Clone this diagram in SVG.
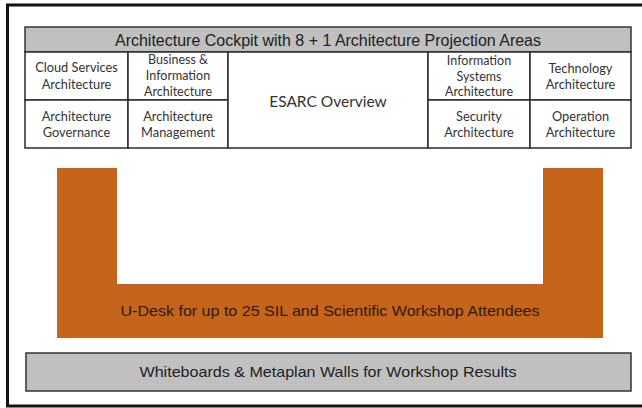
<svg xmlns="http://www.w3.org/2000/svg" width="642" height="408" viewBox="0 0 642 408">
<style>
.cell{fill:#ffffff;stroke:#2b2b2b;stroke-width:1.5}
.bar{fill:#c0c0c0;stroke:#333333;stroke-width:1.5}
.ct{font-family:Lato,"Open Sans","Liberation Sans",sans-serif;font-size:12.8px;fill:#333333;text-anchor:middle}
.cs{font-family:Lato,"Open Sans","Liberation Sans",sans-serif;font-size:12.5px;fill:#333333;text-anchor:middle}
.at{font-family:"Liberation Sans",Arial,sans-serif;fill:#222222;text-anchor:middle}
</style>
<rect x="0" y="0" width="642" height="408" fill="#ffffff"/>
<rect id="frame" x="7.5" y="5" width="640" height="401" fill="none" stroke="#111111" stroke-width="3"/>
<g id="cockpit-title">
<rect class="bar" x="25" y="27" width="606" height="25"/>
<text class="at" x="328" y="45.5" font-size="16" textLength="426" lengthAdjust="spacingAndGlyphs">Architecture Cockpit with 8 + 1 Architecture Projection Areas</text>
</g>
<g id="cloud-services">
<rect class="cell" x="25" y="52" width="103" height="48"/>
<text class="ct" x="76.5" y="72">Cloud Services</text>
<text class="ct" x="76.5" y="89">Architecture</text>
</g>
<g id="business-information">
<rect class="cell" x="128" y="52" width="100" height="48"/>
<text class="cs" x="178" y="64">Business &amp;</text>
<text class="cs" x="178" y="80">Information</text>
<text class="cs" x="178" y="96">Architecture</text>
</g>
<g id="governance">
<rect class="cell" x="25" y="100" width="103" height="48"/>
<text class="ct" x="76.5" y="121">Architecture</text>
<text class="ct" x="76.5" y="137">Governance</text>
</g>
<g id="management">
<rect class="cell" x="128" y="100" width="100" height="48"/>
<text class="ct" x="178" y="121">Architecture</text>
<text class="ct" x="178" y="137">Management</text>
</g>
<g id="esarc-overview">
<rect class="cell" x="228" y="52" width="200" height="96"/>
<text class="ct" x="328" y="107" style="font-size:15.5px">ESARC Overview</text>
</g>
<g id="information-systems">
<rect class="cell" x="428" y="52" width="102" height="48"/>
<text class="cs" x="479" y="65">Information</text>
<text class="cs" x="479" y="81">Systems</text>
<text class="cs" x="479" y="96">Architecture</text>
</g>
<g id="technology">
<rect class="cell" x="530" y="52" width="101" height="48"/>
<text class="ct" x="580.5" y="73">Technology</text>
<text class="ct" x="580.5" y="89">Architecture</text>
</g>
<g id="security">
<rect class="cell" x="428" y="100" width="102" height="48"/>
<text class="ct" x="479" y="121">Security</text>
<text class="ct" x="479" y="137">Architecture</text>
</g>
<g id="operation">
<rect class="cell" x="530" y="100" width="101" height="48"/>
<text class="ct" x="580.5" y="121">Operation</text>
<text class="ct" x="580.5" y="137">Architecture</text>
</g>
<g id="u-desk">
<path d="M57,168 H117 V284 H543 V168 H603 V338 H57 Z" fill="#c6641b"/>
<text class="at" x="330" y="316" font-size="14.5" style="fill:#2e1a0c" textLength="419" lengthAdjust="spacingAndGlyphs">U-Desk for up to 25 SIL and Scientific Workshop Attendees</text>
</g>
<g id="whiteboards">
<rect class="bar" x="26" y="353" width="605" height="38"/>
<text class="at" x="328" y="377" font-size="14.5" textLength="377" lengthAdjust="spacingAndGlyphs">Whiteboards &amp; Metaplan Walls for Workshop Results</text>
</g>
</svg>
